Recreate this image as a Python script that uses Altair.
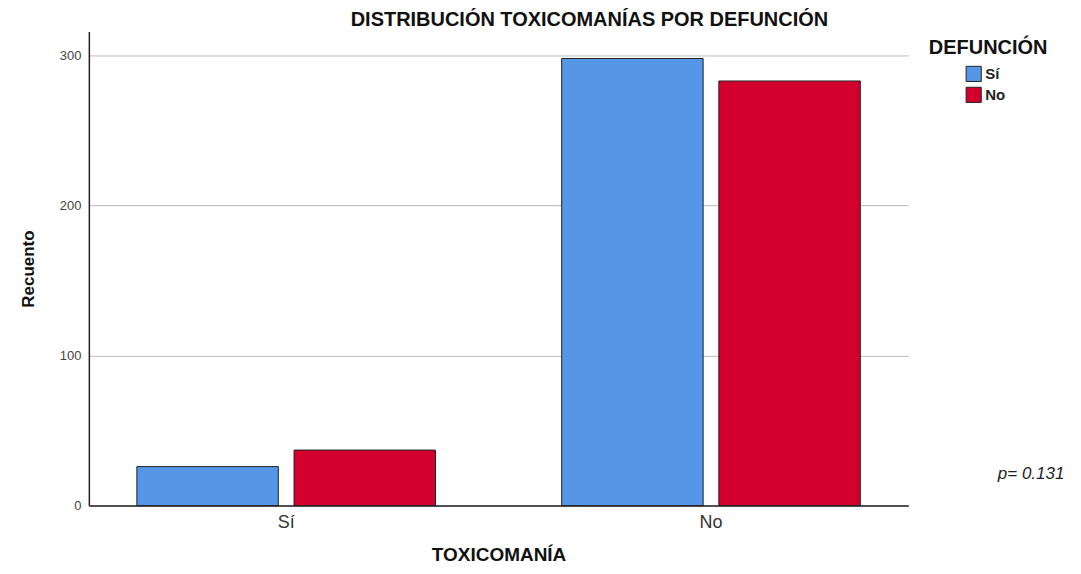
import altair as alt
import pandas as pd

# Data
toxicomania = ["Sí", "Sí", "No", "No"]
defuncion = ["Sí", "No", "Sí", "No"]
recuento = [26, 37, 298, 283]

categorias = ["Sí", "No"]
colores = ["#5596E6", "#D3002E"]
y_ticks = [0, 100, 200, 300]

FONT = "Liberation Sans, Arial, sans-serif"

df = pd.DataFrame({"Toxicomania": toxicomania, "Defuncion": defuncion, "Recuento": recuento})

bars = alt.Chart(df).mark_bar(stroke="#222222", strokeWidth=1).encode(
    x=alt.X(
        "Toxicomania:N",
        sort=categorias,
        scale=alt.Scale(paddingInner=0.297, paddingOuter=0.113),
        axis=alt.Axis(
            title="TOXICOMANÍA",
            labelAngle=0,
            ticks=False,
            labelPadding=8,
            labelFontSize=18,
            labelColor="#333333",
            labelFont=FONT,
            titleFont=FONT,
            titleFontSize=19,
            titleFontWeight="bold",
            titleColor="#111111",
            titlePadding=14,
            domainColor="#222222",
            domainWidth=1.5,
            grid=False,
        ),
    ),
    xOffset=alt.XOffset(
        "Defuncion:N",
        sort=categorias,
        scale=alt.Scale(paddingInner=0.1, paddingOuter=0),
    ),
    y=alt.Y(
        "Recuento:Q",
        scale=alt.Scale(domain=[0, 316], nice=False),
        axis=alt.Axis(
            title="Recuento",
            values=y_ticks,
            ticks=False,
            labelPadding=8,
            labelFontSize=13,
            labelColor="#444444",
            labelFont=FONT,
            titleFont=FONT,
            titleFontSize=17,
            titleFontWeight="bold",
            titleColor="#111111",
            titlePadding=22,
            domainColor="#222222",
            domainWidth=1.5,
            grid=True,
            gridColor="#BBBBBB",
            gridWidth=1,
        ),
    ),
    color=alt.Color(
        "Defuncion:N",
        sort=categorias,
        scale=alt.Scale(domain=categorias, range=colores),
        legend=alt.Legend(
            title=None,
            orient="none",
            legendX=878,
            legendY=34,
            padding=0,
            symbolType="square",
            symbolSize=230,
            symbolStrokeColor="#222222",
            symbolStrokeWidth=1,
            symbolOpacity=1,
            labelFont=FONT,
            labelFontSize=15,
            labelFontWeight="bold",
            labelColor="#222222",
            labelOffset=3,
            rowPadding=0,
        ),
    ),
)

leg_title = alt.Chart(pd.DataFrame({"t": ["DEFUNCIÓN"]})).mark_text(
    font=FONT, fontSize=20, fontWeight="bold", color="#111111",
    align="center", baseline="alphabetic",
).encode(text="t:N", x=alt.value(901), y=alt.value(23))

p_text = alt.Chart(pd.DataFrame({"t": ["p= 0.131"]})).mark_text(
    font=FONT, fontSize=17, fontStyle="italic", color="#222222",
    align="center", baseline="alphabetic",
).encode(text="t:N", x=alt.value(944), y=alt.value(448))

chart = alt.layer(bars, leg_title, p_text).properties(
    width=821,
    height=475,
    title=alt.TitleParams(
        "DISTRIBUCIÓN TOXICOMANÍAS POR DEFUNCIÓN",
        font=FONT, fontSize=20, fontWeight="bold", color="#111111",
        dx=91, offset=1, anchor="middle",
    ),
    autosize=alt.AutoSizeParams(type="none"),
    padding={"left": 81, "top": 23, "right": 165, "bottom": 64},
    background="white",
).configure_view(stroke=None)

chart.save("out.html", embed_options={"renderer": "svg", "actions": False})
